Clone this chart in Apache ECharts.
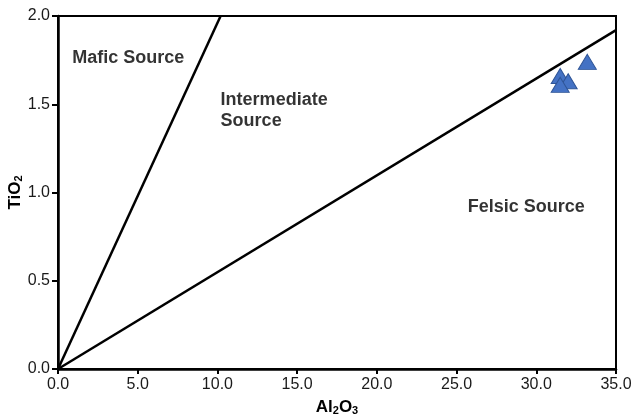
<!DOCTYPE html>
<html><head><meta charset="utf-8">
<script src="https://cdn.jsdelivr.net/npm/echarts@6/dist/echarts.min.js"></script>
<style>html,body{margin:0;padding:0;background:#fff}#c{width:632px;height:419px}</style>
</head><body><div id="c"></div>
<script>
const samples = [[31.5, 1.66], [32.0, 1.63], [31.5, 1.61], [33.2, 1.74]];
const maficBoundary = [[0, 0], [10.2, 2.0]];
const felsicBoundary = [[0, 0], [35, 1.92]];
const regionLabels = [
  {name: 'Mafic Source', value: [0.9, 1.76]},
  {name: 'Intermediate\nSource', value: [10.2, 1.465]},
  {name: 'Felsic Source', value: [25.7, 0.92]}
];
const xTicks = {min: 0, max: 35, interval: 5};
const yTicks = {min: 0, max: 2, interval: 0.5};

const chart = echarts.init(document.getElementById('c'));
const font = '"Liberation Sans", Arial, sans-serif';
chart.setOption({
  animation: false,
  grid: {left: 58, right: 16, top: 16, bottom: 50, outerBoundsMode: 'none', containLabel: false,
         show: true, borderColor: '#000', borderWidth: 2, backgroundColor: 'transparent'},
  xAxis: {
    type: 'value', min: xTicks.min, max: xTicks.max, interval: xTicks.interval,
    splitLine: {show: false},
    axisLine: {show: true, onZero: false, lineStyle: {color: '#000', width: 2.5}},
    axisTick: {show: true, length: 5, lineStyle: {color: '#000', width: 2}},
    axisLabel: {color: '#1a1a1a', fontFamily: font, fontSize: 16, margin: 8, formatter: v => v.toFixed(1)},
    name: '{b|Al}{s|2}{b|O}{s|3}', nameLocation: 'middle', nameGap: 30, nameMoveOverlap: false,
    nameTextStyle: {rich: {
      b: {fontFamily: font, fontWeight: 'bold', fontSize: 17, color: '#000'},
      s: {fontFamily: font, fontWeight: 'bold', fontSize: 11, color: '#000', padding: [6, 0, 0, 0]}
    }}
  },
  yAxis: {
    type: 'value', min: yTicks.min, max: yTicks.max, interval: yTicks.interval,
    splitLine: {show: false},
    axisLine: {show: true, onZero: false, lineStyle: {color: '#000', width: 2.5}},
    axisTick: {show: true, length: 6, lineStyle: {color: '#000', width: 2}},
    axisLabel: {color: '#1a1a1a', fontFamily: font, fontSize: 16, margin: 8, formatter: v => v.toFixed(1)},
    name: '{b|TiO}{s|2}', nameLocation: 'middle', nameGap: 34, nameMoveOverlap: false,
    nameTextStyle: {rich: {
      b: {fontFamily: font, fontWeight: 'bold', fontSize: 17, color: '#000'},
      s: {fontFamily: font, fontWeight: 'bold', fontSize: 11, color: '#000', padding: [6, 0, 0, 0]}
    }}
  },
  series: [
    {type: 'line', data: maficBoundary, symbol: 'none', lineStyle: {color: '#000', width: 2.5}, z: 3},
    {type: 'line', data: felsicBoundary, symbol: 'none', lineStyle: {color: '#000', width: 2.5}, z: 3},
    {type: 'scatter', data: regionLabels, symbolSize: 0, silent: true,
     label: {show: true, position: 'right', distance: 0, formatter: p => p.name,
       fontFamily: font, fontWeight: 'bold', fontSize: 18, color: '#000', lineHeight: 21}},
    {type: 'scatter', data: samples, symbol: 'triangle', symbolSize: [18, 15], z: 5,
     itemStyle: {color: '#4472C4', opacity: 1, borderColor: '#2F5597', borderWidth: 1}}
  ]
});
</script></body></html>
